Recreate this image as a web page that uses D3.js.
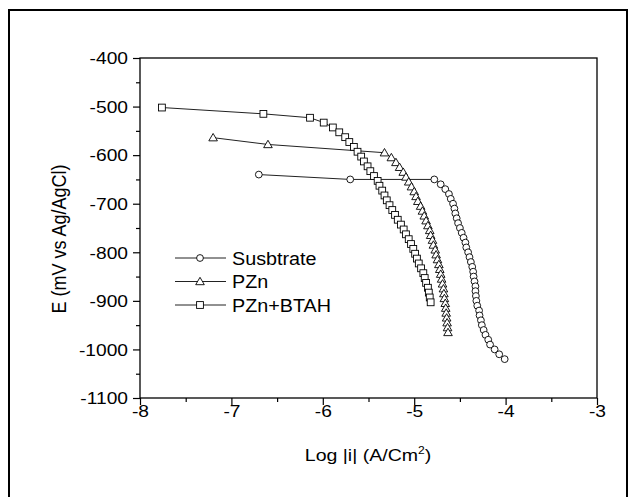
<!DOCTYPE html>
<html><head><meta charset="utf-8">
<script src="https://cdn.jsdelivr.net/npm/d3@7"></script>
<style>body{margin:0;background:#fff} svg{display:block}</style>
</head><body><svg id="c" width="629" height="497"></svg>
<script>
// ---- data ----
const seriesNames = ["Susbtrate", "PZn", "PZn+BTAH"];
const xTickValues = [-8, -7, -6, -5, -4, -3];
const yTickValues = [-400, -500, -600, -700, -800, -900, -1000, -1100];

const subX = [-6.70, -5.70, -4.78, -4.71, -4.66, -4.62, -4.60, -4.575, -4.56, -4.55, -4.535, -4.52, -4.50, -4.48, -4.46, -4.44, -4.43, -4.41, -4.395, -4.38, -4.365, -4.355, -4.35, -4.34, -4.33, -4.33, -4.325, -4.32, -4.31, -4.29, -4.285, -4.27, -4.26, -4.24, -4.22, -4.19, -4.17, -4.12, -4.07, -4.01];
const subY = [-640, -650, -650, -660, -670, -680, -690, -700, -710, -720, -730, -740, -750, -760, -770, -780, -790, -800, -810, -820, -830, -840, -850, -860, -870, -880, -890, -900, -910, -920, -930, -940, -950, -960, -970, -980, -990, -1000, -1010, -1020];

const pznX = [-7.20, -6.60, -5.325, -5.25, -5.20, -5.16, -5.12, -5.09, -5.06, -5.03, -5.00, -4.98, -4.96, -4.93, -4.91, -4.89, -4.87, -4.85, -4.83, -4.82, -4.80, -4.79, -4.77, -4.76, -4.745, -4.73, -4.72, -4.71, -4.70, -4.69, -4.68, -4.675, -4.67, -4.66, -4.655, -4.65, -4.645, -4.64, -4.635, -4.63];
const pznY = [-564, -578, -595, -605, -615, -625, -635, -645, -655, -665, -675, -685, -695, -705, -715, -725, -735, -745, -755, -765, -775, -785, -795, -805, -815, -825, -835, -845, -855, -865, -875, -885, -895, -905, -915, -925, -935, -945, -955, -965];

const btX = [-7.76, -6.65, -6.14, -5.99, -5.89, -5.82, -5.755, -5.71, -5.66, -5.62, -5.58, -5.55, -5.51, -5.48, -5.44, -5.40, -5.38, -5.35, -5.325, -5.30, -5.27, -5.24, -5.21, -5.18, -5.145, -5.115, -5.09, -5.06, -5.035, -5.01, -4.99, -4.97, -4.95, -4.925, -4.90, -4.885, -4.87, -4.85, -4.84, -4.83, -4.82];
const btY = [-502, -515, -523, -533, -543, -553, -563, -573, -583, -593, -603, -613, -623, -633, -643, -653, -663, -673, -683, -693, -703, -713, -723, -733, -743, -753, -763, -773, -783, -793, -803, -813, -823, -833, -843, -853, -863, -873, -883, -893, -903];

const series = [
  {name: seriesNames[0], xs: subX, ys: subY, shape: "circle"},
  {name: seriesNames[1], xs: pznX, ys: pznY, shape: "triangle"},
  {name: seriesNames[2], xs: btX, ys: btY, shape: "square"}
];

// ---- layout ----
const svg = d3.select("#c");
const L = 140, R = 597, T = 58, B = 398;
const x = d3.scaleLinear().domain([-8, -3]).range([L, R]);
const y = d3.scaleLinear().domain([-1100, -400]).range([B, T]);
const FONT = "'Liberation Sans', Arial, sans-serif";
const fmt = d => String(d);

svg.append("rect").attr("x", 9).attr("y", 10).attr("width", 618).attr("height", 500)
  .attr("fill", "none").attr("stroke", "#000").attr("stroke-width", 2);

// minor ticks
const xMinor = [-7.5, -6.5, -5.5, -4.5, -3.5];
const yMinor = [-450, -550, -650, -750, -850, -950, -1050];
svg.append("g").attr("transform", `translate(0,${B})`)
  .call(d3.axisBottom(x).tickValues(xMinor).tickSize(4).tickFormat(""))
  .call(g => g.select(".domain").remove())
  .selectAll("line").attr("stroke-width", 1.2);
svg.append("g").attr("transform", `translate(${L},0)`)
  .call(d3.axisLeft(y).tickValues(yMinor).tickSize(4).tickFormat(""))
  .call(g => g.select(".domain").remove())
  .selectAll("line").attr("stroke-width", 1.2);

// major ticks
const SX = 1.2;
const gx = svg.append("g").attr("transform", `translate(0,${B})`)
  .call(d3.axisBottom(x).tickValues(xTickValues).tickSize(7).tickFormat(fmt))
  .call(g => g.select(".domain").remove());
gx.selectAll("line").attr("stroke-width", 1.2);
gx.selectAll("text").attr("font-family", FONT).attr("font-size", 16).attr("fill", "#000")
  .attr("y", 0).attr("dy", 0)
  .attr("transform", `translate(0,19) scale(${SX},1)`);

const gy = svg.append("g").attr("transform", `translate(${L},0)`)
  .call(d3.axisLeft(y).tickValues(yTickValues).tickSize(7).tickFormat(fmt))
  .call(g => g.select(".domain").remove());
gy.selectAll("line").attr("stroke-width", 1.2);
gy.selectAll("text").attr("font-family", FONT).attr("font-size", 16).attr("fill", "#000")
  .attr("x", 0).attr("dy", "0.36em")
  .attr("transform", `translate(-12,0) scale(${SX},1)`);

// frame
svg.append("rect").attr("x", L).attr("y", T).attr("width", R - L).attr("height", B - T)
  .attr("fill", "none").attr("stroke", "#000").attr("stroke-width", 1.3);

// ---- markers ----
function drawMarker(g, shape, cx, cy) {
  if (shape === "circle") {
    g.append("circle").attr("cx", cx).attr("cy", cy).attr("r", 3.4)
      .attr("fill", "#fff").attr("stroke", "#000").attr("stroke-width", 0.9);
  } else if (shape === "square") {
    g.append("rect").attr("x", cx - 3.4).attr("y", cy - 3.4).attr("width", 6.8).attr("height", 6.8)
      .attr("fill", "#fff").attr("stroke", "#000").attr("stroke-width", 0.9);
  } else {
    const h = 4.2;
    g.append("path").attr("d", `M${cx},${cy - h}L${cx + 4.3},${cy + 3.2}L${cx - 4.3},${cy + 3.2}Z`)
      .attr("fill", "#fff").attr("stroke", "#000").attr("stroke-width", 0.9);
  }
}

const line = d3.line().x(d => x(d[0])).y(d => y(d[1]));
series.forEach(s => {
  const pts = s.xs.map((v, i) => [v, s.ys[i]]);
  svg.append("path").attr("d", line(pts)).attr("fill", "none")
    .attr("stroke", "#222").attr("stroke-width", 1);
});
series.forEach(s => {
  const g = svg.append("g");
  s.xs.forEach((v, i) => drawMarker(g, s.shape, x(v), y(s.ys[i])));
});

// ---- legend ----
const legY = [258, 281.5, 305];
series.forEach((s, i) => {
  const g = svg.append("g");
  g.append("line").attr("x1", 175).attr("x2", 226).attr("y1", legY[i]).attr("y2", legY[i])
    .attr("stroke", "#222").attr("stroke-width", 1);
  drawMarker(g, s.shape, 200, legY[i]);
  g.append("text").attr("transform", `translate(232,${legY[i] + 6.5}) scale(1.13,1)`)
    .attr("font-family", FONT).attr("font-size", 17.5).attr("fill", "#000").text(s.name);
});

// ---- axis titles ----
const xt = svg.append("text").attr("transform", `translate(368,461) scale(1.15,1)`)
  .attr("text-anchor", "middle").attr("font-family", FONT).attr("font-size", 17).attr("fill", "#000");
xt.append("tspan").text("Log |i| (A/Cm");
xt.append("tspan").attr("font-size", 10.5).attr("dy", -7).text("2");
xt.append("tspan").attr("dy", 7).text(")");

svg.append("text").attr("transform", `translate(66,239) rotate(-90) scale(1,1.15)`)
  .attr("text-anchor", "middle").attr("font-family", FONT).attr("font-size", 18).attr("fill", "#000")
  .text("E (mV vs Ag/AgCl)");
</script></body></html>
